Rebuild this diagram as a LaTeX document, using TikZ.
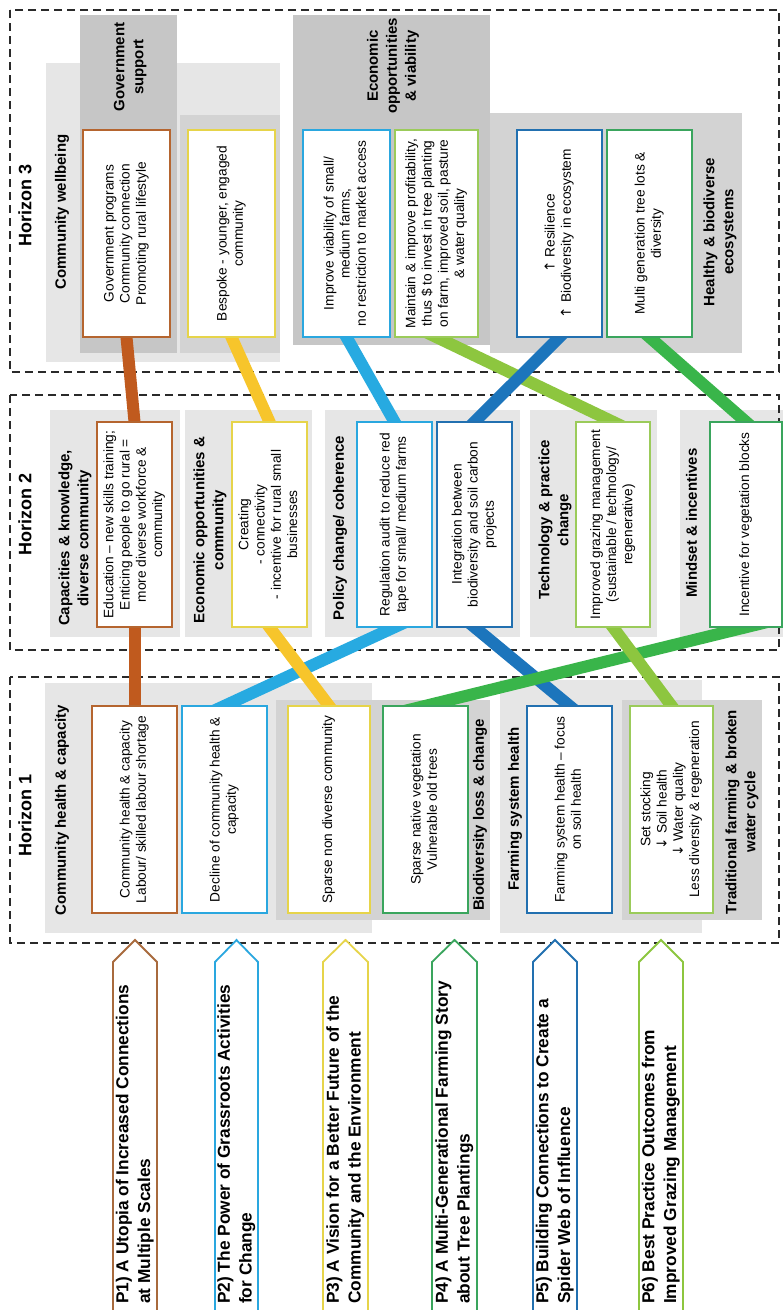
\documentclass[tikz,border=0pt]{standalone}
\usepackage{fontspec}
\setmainfont{Liberation Sans}
\newfontfamily\arrowfont{DejaVu Sans}
\definecolor{cBrown}{HTML}{C05A1E}
\definecolor{cBrownBox}{HTML}{B5652F}
\definecolor{cBrownP}{HTML}{A86A3D}
\definecolor{cYellow}{HTML}{F7C52B}
\definecolor{cYellowBox}{HTML}{E6D44A}
\definecolor{cCyan}{HTML}{27AAE1}
\definecolor{cCyanBox}{HTML}{2AA7DF}
\definecolor{cLGreen}{HTML}{8DC63F}
\definecolor{cLGreenBox}{HTML}{9BCB5A}
\definecolor{cDBlue}{HTML}{1C75BC}
\definecolor{cDBlueBox}{HTML}{2270B0}
\definecolor{cGreen}{HTML}{39B54A}
\definecolor{cGreenBox}{HTML}{3AA55D}
\definecolor{gLight}{HTML}{E6E6E6}
\definecolor{gMid}{HTML}{D3D3D3}
\definecolor{gDark}{HTML}{C6C6C6}
\definecolor{frameC}{HTML}{2A2A2A}
\newcommand\rtext[1]{\rotatebox{90}{\begin{tabular}{@{}c@{}}#1\end{tabular}}}
\newcommand\rltext[1]{\rotatebox{90}{\begin{tabular}{@{}l@{}}#1\end{tabular}}}
\newcommand\up{{\arrowfont ↑}}
\newcommand\dn{{\arrowfont ↓}}
\tikzset{
  box/.style={draw=#1, line width=1.4pt, fill=white, inner sep=0pt, font=\fontsize{13.7}{16.2}\selectfont},
  glabel/.style={inner sep=0pt, font=\bfseries\fontsize{15}{19}\selectfont},
  hlabel/.style={inner sep=0pt, font=\bfseries\fontsize{18}{22}\selectfont},
  ptext/.style={inner sep=0pt, anchor=south, font=\bfseries\fontsize{17.3}{21.7}\selectfont},
  band/.style={draw=#1, line width=12pt, shorten <=-30pt, shorten >=-30pt},
  parrow/.style={draw=#1, line width=1.8pt, fill=white, line join=miter},
  frame/.style={draw=frameC, line width=1.3pt, dash pattern=on 8pt off 5pt},
  h3/.style={minimum height=207pt},
  h2/.style={minimum height=205pt},
  h1/.style={minimum height=207pt}
}
\begin{document}
\begin{tikzpicture}[x=1pt,y=-1pt]
\useasboundingbox (0,0) rectangle (783,1310);
\clip (0,0) rectangle (783,1310);
\fill[white] (0,0) rectangle (783,1310);
% ---------- gray backgrounds, Horizon 3
\fill[gLight] (46,63) rectangle (280,362);
\fill[gDark] (80,15) rectangle (177,353);
\fill[gMid] (180,115) rectangle (280,353);
\fill[gDark] (293,15) rectangle (490,345);
\fill[gMid] (490,113) rectangle (742,353);
% ---------- Horizon 2
\fill[gLight] (50,410) rectangle (180,637);
\fill[gLight] (185,410) rectangle (312,637);
\fill[gLight] (325,410) rectangle (520,637);
\fill[gLight] (530,410) rectangle (657,637);
\fill[gLight] (680,410) rectangle (790,637);
% ---------- Horizon 1
\fill[gLight] (45,683) rectangle (372,933);
\fill[gMid] (276,700) rectangle (490,920);
\fill[gLight] (500,680) rectangle (702,933);
\fill[gMid] (622,700) rectangle (762,920);
% ---------- dashed frames
\draw[frame] (10,10) rectangle (779,372);
\draw[frame] (10,395) rectangle (779,650);
\draw[frame] (10,677) rectangle (779,943);
% ---------- box centres
\path
 (126.5,233.5) coordinate (pgov)
 (231.5,233.5) coordinate (pbesp)
 (346.5,233.5) coordinate (pimpv)
 (436.5,233.5) coordinate (pmaint)
 (559.5,233.5) coordinate (presil)
 (649.5,233.5) coordinate (pmulti)
 (134.5,524.5) coordinate (pedu)
 (269.5,524.5) coordinate (pcreat)
 (394.5,524.5) coordinate (preg)
 (474.5,524.5) coordinate (pinteg)
 (613,524.5) coordinate (pgraz)
 (746,524.5) coordinate (pincent)
 (134.5,809.5) coordinate (pcomm)
 (224.5,809.5) coordinate (pdecl)
 (329,809.5) coordinate (psparse)
 (425.5,809.5) coordinate (pnative)
 (569.5,809.5) coordinate (pfarm)
 (671.5,809.5) coordinate (pstock);
% invisible anchors for the bands (same geometry as the boxes)
\foreach \n/\w/\h in {gov/87/207, besp/87/207, impv/87/207, maint/83/207, resil/85/207, multi/85/207,
  edu/75/205, creat/75/205, reg/75/205, integ/75/205, graz/74/205, incent/72/205,
  comm/85/207, decl/85/207, sparse/82/207, native/85/207, farm/85/207, stock/83/207}
  \node[inner sep=0pt, minimum width=\w pt, minimum height=\h pt] (a\n) at (p\n) {};
% ---------- bands
\draw[band=cBrown] (agov.south) -- (aedu.north);
\draw[band=cBrown] (aedu.south) -- (acomm.north);
\draw[band=cCyan] (aimpv.south) -- (areg.north);
\draw[band=cCyan] (areg.south) -- (adecl.north);
\draw[band=cYellow] (abesp.south) -- (acreat.north);
\draw[band=cYellow] (acreat.south) -- (asparse.north);
\draw[band=cLGreen] (amaint.south) -- (agraz.north);
\draw[band=cDBlue] (aresil.south) -- (ainteg.north);
\draw[band=cDBlue] (ainteg.south) -- (afarm.north);
\draw[band=cGreen] (amulti.south) -- (aincent.north);
\draw[band=cGreen] (aincent.south) -- (anative.north);
\draw[band=cLGreen] (agraz.south) -- (astock.north);
% ---------- boxes Horizon 3
\node[box=cBrownBox, h3, minimum width=87pt] (gov) at (pgov) {\rtext{Government programs\\Community connection\\Promoting rural lifestyle}};
\node[box=cYellowBox, h3, minimum width=87pt] (besp) at (pbesp) {\rtext{Bespoke - younger, engaged\\community}};
\node[box=cCyanBox, h3, minimum width=87pt] (impv) at (pimpv) {\rtext{Improve viability of small/\\medium farms,\\no restriction to market access}};
\node[box=cLGreenBox, h3, minimum width=83pt] (maint) at (pmaint) {\rtext{Maintain \& improve profitability,\\thus \$ to invest in tree planting\\on farm, improved soil, pasture\\\& water quality}};
\node[box=cDBlueBox, h3, minimum width=85pt] (resil) at (presil) {\rtext{\up\ Resilience\\\up\ Biodiversity in ecosystem}};
\node[box=cGreenBox, h3, minimum width=85pt] (multi) at (pmulti) {\rtext{Multi generation tree lots \&\\diversity}};
% ---------- boxes Horizon 2
\node[box=cBrownBox, h2, minimum width=75pt] (edu) at (pedu) {\rtext{Education – new skills training;\\Enticing people to go rural =\\more diverse workforce \&\\community}};
\node[box=cYellowBox, h2, minimum width=75pt] (creat) at (pcreat) {\rtext{Creating\\- connectivity\\- incentive for rural small\\businesses}};
\node[box=cCyanBox, h2, minimum width=75pt] (reg) at (preg) {\rtext{Regulation audit to reduce red\\tape for small/ medium farms}};
\node[box=cDBlueBox, h2, minimum width=75pt] (integ) at (pinteg) {\rtext{Integration between\\biodiversity and soil carbon\\projects}};
\node[box=cLGreenBox, h2, minimum width=74pt] (graz) at (pgraz) {\rtext{Improved grazing management\\(sustainable / technology/\\regenerative)}};
\node[box=cGreenBox, h2, minimum width=72pt] (incent) at (pincent) {\rtext{Incentive for vegetation blocks}};
% ---------- boxes Horizon 1
\node[box=cBrownBox, h1, minimum width=85pt] (comm) at (pcomm) {\rtext{Community health \& capacity\\Labour/ skilled labour shortage}};
\node[box=cCyanBox, h1, minimum width=85pt] (decl) at (pdecl) {\rtext{Decline of community health \&\\capacity}};
\node[box=cYellowBox, h1, minimum width=82pt] (sparse) at (psparse) {\rtext{Sparse non diverse community}};
\node[box=cGreenBox, h1, minimum width=85pt] (native) at (pnative) {\rtext{Sparse native vegetation\\Vulnerable old trees}};
\node[box=cDBlueBox, h1, minimum width=85pt] (farm) at (pfarm) {\rtext{Farming system health – focus\\on soil health}};
\node[box=cLGreenBox, h1, minimum width=83pt] (stock) at (pstock) {\rtext{Set stocking\\\dn\ Soil health\\\dn\ Water quality\\Less diversity \& regeneration}};
% ---------- labels
\node[hlabel] (hz3) at (27,205) {\rtext{Horizon 3}};
\node[hlabel] (hz2) at (27,514) {\rtext{Horizon 2}};
\node[hlabel] (hz1) at (27,815) {\rtext{Horizon 1}};
\node[glabel] (lcw) at (62,212) {\rtext{Community wellbeing}};
\node[glabel] (lgs) at (130,67) {\rtext{Government\\support}};
\node[glabel] (leov) at (393,66) {\rtext{Economic\\opportunities\\\& viability}};
\node[glabel] (lhbe) at (720,232) {\rtext{Healthy \& biodiverse\\ecosystems}};
\node[glabel] (lck) at (75,538) {\rtext{Capacities \& knowledge,\\diverse community}};
\node[glabel] (leoc) at (210,530) {\rtext{Economic opportunities \&\\community}};
\node[glabel] (lpc) at (340,528) {\rtext{Policy change/ coherence}};
\node[glabel] (ltp) at (555,520) {\rtext{Technology \& practice\\change}};
\node[glabel] (lmi) at (693,523) {\rtext{Mindset \& incentives}};
\node[glabel] (lchc) at (62,810) {\rtext{Community health \& capacity}};
\node[glabel] (lblc) at (480,815) {\rtext{Biodiversity loss \& change}};
\node[glabel] (lfsh) at (515,809) {\rtext{Farming system health}};
\node[glabel] (ltf) at (742,812) {\rtext{Traditional farming \& broken\\water cycle}};
% ---------- pathway arrows
\foreach \l/\r/\c in {113/157/cBrownP, 215/258/cCyanBox, 323/368/cYellowBox, 432/477/cGreenBox, 533/577/cDBlueBox, 639/683/cLGreen}
  \draw[parrow=\c] (\l,1330) -- (\l,962) -- ({(\l+\r)/2},940) -- (\r,962) -- (\r,1330);
\node[ptext] (p1) at (135,1304) {\rltext{P1) A Utopia of Increased Connections\\at Multiple Scales}};
\node[ptext] (p2) at (236.5,1304) {\rltext{P2) The Power of Grassroots Activities\\for Change}};
\node[ptext] (p3) at (345.5,1304) {\rltext{P3) A Vision for a Better Future of the\\Community and the Environment}};
\node[ptext] (p4) at (454.5,1304) {\rltext{P4) A Multi-Generational Farming Story\\about Tree Plantings}};
\node[ptext] (p5) at (555,1304) {\rltext{P5) Building Connections to Create a\\Spider Web of Influence}};
\node[ptext] (p6) at (661,1304) {\rltext{P6) Best Practice Outcomes from\\Improved Grazing Management}};
\end{tikzpicture}
\end{document}
